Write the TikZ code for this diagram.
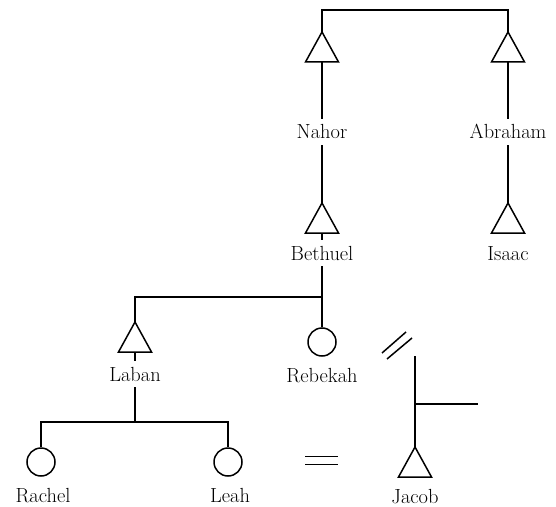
\documentclass[tikz,border=0pt]{standalone}
\usetikzlibrary{calc}
\begin{document}
\begin{tikzpicture}[x=1bp,y=-1bp,
  kin/.style={line width=1.5bp},
  lbl/.style={font=\fontsize{20.5}{24}\selectfont, text height=14bp, text depth=0pt, inner xsep=3bp, inner ysep=6bp},
  female/.style={circle, draw, line width=1.5bp, minimum size=28bp, inner sep=0pt}]
\newcommand\maletri[3]{%
  \coordinate (#1-T) at (#2,#3);
  \coordinate (#1-B) at (#2,#3+30);
  \draw[kin] (#2,#3) -- (#2-16.5,#3+30) -- (#2+16.5,#3+30) -- cycle;}
\path[use as bounding box] (0,0) rectangle (556,507);
\fill[white] (0,0) rectangle (556,507);
% males
\maletri{nahorT}{322}{32}
\maletri{abrahamT}{508}{32}
\maletri{bethuelT}{322}{203}
\maletri{isaacT}{508}{203}
\maletri{labanT}{135}{322}
\maletri{jacobT}{415}{447}
% females
\node[female] (rebekahC) at (322,342) {};
\node[female] (rachelC) at (41,462) {};
\node[female] (leahC) at (228,462) {};
% labels
\node[lbl] (nahor) at (322,132) {Nahor};
\node[lbl] (abraham) at (508,132) {Abraham};
\node[lbl] (bethuel) at (322,253) {Bethuel};
\node[lbl] (isaac) at (508,253) {Isaac};
\node[lbl] (laban) at (135,374) {Laban};
\node[lbl] (rebekah) at (322,375) {Rebekah};
\node[lbl] (rachel) at (43,495) {Rachel};
\node[lbl] (leah) at (230,495) {Leah};
\node[lbl] (jacob) at (415,496) {Jacob};
% coordinates
\coordinate (top1) at (322,10);
\coordinate (top2) at (508,10);
\coordinate (sib1) at (322,297);
\coordinate (sib2) at (135,297);
\coordinate (fam) at (135,422);
\coordinate (fam1) at (41,422);
\coordinate (fam2) at (228,422);
\coordinate (jtop) at (415,356);
\coordinate (jmid) at (415,404);
\coordinate (jend) at (478,404);
% sibling line Nahor-Abraham
\draw[kin] (nahorT-T) -- (top1) -- (top2) -- (abrahamT-T);
% descent
\draw[kin] (nahorT-B) -- (nahor.north);
\draw[kin] (nahor.south) -- (bethuelT-T);
\draw[kin] (abrahamT-B) -- (abraham.north);
\draw[kin] (abraham.south) -- (isaacT-T);
\draw[kin] (bethuelT-B) -- (bethuel.north);
\draw[kin] (bethuel.south) -- (rebekahC.north);
\draw[kin] (sib1) -- (sib2) -- (labanT-T);
\draw[kin] (labanT-B) -- (laban.north);
\draw[kin] (laban.south) -- (fam);
\draw[kin] (rachelC.north) -- (fam1) -- (fam2) -- (leahC.north);
% Jacob
\draw[kin] (jtop) -- (jacobT-T);
\draw[kin] (jmid) -- (jend);
% marriage / divorce marks
\coordinate (s1a) at (382,353); \coordinate (s1b) at (406,332);
\coordinate (s2a) at (387,359); \coordinate (s2b) at (412,338);
\draw[kin] (s1a) -- (s1b);
\draw[kin] (s2a) -- (s2b);
\coordinate (e1a) at (305,456.5); \coordinate (e1b) at (338,456.5);
\coordinate (e2a) at (305,464.5); \coordinate (e2b) at (338,464.5);
\draw[kin] (e1a) -- (e1b);
\draw[kin] (e2a) -- (e2b);
\end{tikzpicture}
\end{document}
